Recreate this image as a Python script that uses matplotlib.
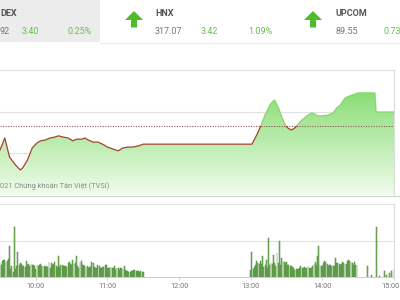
import matplotlib
matplotlib.use("Agg")
import matplotlib.pyplot as plt
import matplotlib.transforms as mtransforms
import numpy as np
from matplotlib.patches import Rectangle, Polygon
from matplotlib.colors import LinearSegmentedColormap

plt.rcParams['font.family'] = ['Roboto', 'DejaVu Sans']

# ---------------- data ----------------
banner_names = ["DEX", "HNX", "UPCOM"]
banner_values = ["92", "317.07", "89.55"]
banner_changes = ["3.40", "3.42", "0.73"]
banner_pcts = ["0.25%", "1.09%", ""]

ref_price = 1356.52

price_times = ["09:30", "09:34", "09:38", "09:43", "09:47", "09:49", "09:53", "09:57",
               "10:01", "10:04", "10:08", "10:12", "10:16", "10:19", "10:23", "10:27",
               "10:31", "10:34", "10:39", "10:41", "10:44", "10:48", "10:52", "10:56",
               "11:00", "11:05", "11:09", "11:13", "11:17", "11:21", "11:26", "11:30",
               "13:00", "13:01", "13:05", "13:08", "13:12", "13:16", "13:19", "13:20",
               "13:23", "13:26", "13:29", "13:31", "13:34", "13:37", "13:39", "13:43",
               "13:47", "13:51", "13:54", "13:56", "14:00", "14:05", "14:09", "14:12",
               "14:15", "14:19", "14:23", "14:27", "14:30", "14:44", "14:45", "15:00"]
price_values = [1350.8, 1353.7, 1349.1, 1347.2, 1346.0, 1346.5, 1348.4, 1351.3,
                1352.5, 1353.0, 1353.2, 1353.7, 1353.9, 1354.2, 1353.9, 1353.7,
                1353.0, 1353.4, 1353.4, 1353.7, 1353.2, 1352.7, 1352.7, 1352.2,
                1351.5, 1351.0, 1350.6, 1351.3, 1351.5, 1351.5, 1351.8, 1352.2,
                1352.2, 1352.2, 1354.4, 1356.3, 1359.2, 1361.6, 1362.6, 1362.8,
                1361.1, 1358.7, 1356.8, 1356.1, 1355.6, 1356.1, 1356.8, 1358.0,
                1359.0, 1359.7, 1359.4, 1359.0, 1359.0, 1359.2, 1359.7, 1360.9,
                1361.6, 1363.3, 1363.8, 1364.2, 1364.5, 1364.5, 1359.92, 1359.92]

# per-minute volume (thousand shares), morning from 09:30
vol_morning_start = "09:30"
vol_morning = [380, 330, 440, 470, 470, 410, 440, 490, 850, 220,
               300, 140, 1370, 220, 300, 690, 330, 380, 360, 300,
               300, 270, 440, 330, 360, 300, 360, 330, 330, 300,
               220, 330, 300, 330, 360, 300, 300, 300, 270, 300,
               270, 410, 250, 380, 330, 360, 410, 300, 270, 580,
               270, 330, 330, 300, 300, 300, 270, 380, 410, 360,
               330, 470, 360, 380, 580, 300, 250, 410, 440, 330,
               330, 300, 270, 300, 250, 270, 270, 410, 380, 270,
               250, 250, 330, 300, 250, 250, 270, 270, 330, 330,
               250, 250, 250, 270, 250, 250, 300, 220, 250, 250,
               190, 250, 250, 220, 300, 190, 160, 160, 140, 140,
               160, 160, 190, 190, 160, 160, 160, 140, 160, 140,
               140]
# per-minute volume, afternoon from 13:00
vol_afternoon_start = "13:00"
vol_afternoon = [190, 690, 220, 270, 330, 440, 380, 360, 440, 360,
                 580, 270, 330, 470, 250, 1070, 330, 380, 360, 600,
                 380, 300, 660, 380, 990, 330, 520, 440, 410, 380,
                 410, 330, 330, 300, 300, 270, 250, 190, 220, 220,
                 220, 250, 300, 250, 250, 270, 250, 250, 300, 250,
                 250, 250, 300, 360, 410, 330, 580, 850, 330, 300,
                 300, 380, 440, 410, 360, 300, 330, 330, 300, 300,
                 300, 520, 380, 380, 360, 330, 360, 410, 380, 360,
                 360, 440, 470, 440, 410, 380, 330, 410, 330, 330]
vol_late_times = ["14:38", "14:41", "14:45", "14:48", "14:52", "14:54", "14:56", "14:58", "15:00"]
vol_late = [300, 50, 1370, 30, 160, 50, 110, 160, 220]

tick_labels = ["10:00", "11:00", "12:00", "13:00", "14:00", "15:00"]


def to_h(s):
    hh, mm = s.split(":")
    return int(hh) + int(mm) / 60.0


# ---------------- figure ----------------
W, H = 400, 300
fig = plt.figure(figsize=(4, 3), dpi=100)
fig.patch.set_facecolor("white")

X0, X1 = 9.5, 15.0
ax_right = 394 / W

# price axes: y from 70 px to 195 px
ax = fig.add_axes([0, 1 - 195 / H, ax_right, (195 - 70) / H])
ax.set_xlim(X0, X1)
ax.set_ylim(1340, 1370)
for s in ["left", "top", "bottom"]:
    ax.spines[s].set_visible(False)
ax.spines["right"].set_color("#dcdcdc")
ax.spines["right"].set_linewidth(0.8)
ax.set_xticks([])
ax.set_yticks([])
ax.set_facecolor("none")
for g in [1350, 1360, 1370]:
    ax.axhline(g, color="#e2e2e2", lw=0.8, zorder=0.5, clip_on=False)

t = np.array([to_h(s) for s in price_times])
v = np.array(price_values)

poly = ax.fill_between(t, v, 1340, facecolor="none", edgecolor="none")
grad = np.linspace(0, 1, 256).reshape(-1, 1)
cmap = LinearSegmentedColormap.from_list("g", ["#f0fcec", "#74d65c"])
im = ax.imshow(grad, extent=[X0, X1, 1340, 1370], origin="lower", cmap=cmap,
               aspect="auto", zorder=1, interpolation="bilinear")
im.set_clip_path(poly.get_paths()[0], transform=ax.transData)

ax.axhline(ref_price, color="#8a5a5a", lw=0.8, ls=(0, (1, 1.3)), zorder=2)

above = Rectangle((X0, ref_price), X1 - X0, 1370 - ref_price, transform=ax.transData)
below = Rectangle((X0, 1340), X1 - X0, ref_price - 1340, transform=ax.transData)
l1, = ax.plot(t, v, color="#86d870", lw=0.9, zorder=3)
l1.set_clip_path(above)
l2, = ax.plot(t, v, color="#a6432c", lw=0.9, zorder=3)
l2.set_clip_path(below)

# volume axes: y from 204 px to 277 px
axv = fig.add_axes([0, (H - 277) / H, ax_right, (277 - 204) / H])
axv.set_xlim(X0, X1)
axv.set_ylim(0, 2000)
for s in ["left", "top"]:
    axv.spines[s].set_visible(False)
axv.spines["right"].set_color("#dcdcdc")
axv.spines["right"].set_linewidth(0.8)
axv.spines["bottom"].set_color("#cfcfcf")
axv.spines["bottom"].set_linewidth(0.8)
axv.set_yticks([])
axv.set_facecolor("none")
for g in [1000, 2000]:
    axv.axhline(g, color="#e2e2e2", lw=0.8, zorder=0.5, clip_on=False)

bw = 0.75 / 60
tm = to_h(vol_morning_start) + np.arange(len(vol_morning)) / 60.0
ta = to_h(vol_afternoon_start) + np.arange(len(vol_afternoon)) / 60.0
tl = np.array([to_h(s) for s in vol_late_times])
for tt, vv in [(tm, vol_morning), (ta, vol_afternoon), (tl, vol_late)]:
    axv.bar(tt, vv, width=bw, color="#82bb6a", edgecolor="#4a8636", linewidth=0.35, zorder=2)

axv.set_xticks([to_h(s) for s in tick_labels])
axv.set_xticklabels(tick_labels)
axv.tick_params(axis="x", length=2.5, width=0.6, color="#cccccc", pad=2,
                labelsize=5.3, labelcolor="#777777")
last = axv.get_xticklabels()[-1]
last.set_horizontalalignment("right")
last.set_transform(last.get_transform() +
                   mtransforms.ScaledTranslation(5.5 / 100, 0, fig.dpi_scale_trans))

# ---------------- overlay decorations (pixel coords) ----------------
ov = fig.add_axes([0, 0, 1, 1], zorder=-1)
ov.set_xlim(0, W)
ov.set_ylim(H, 0)
ov.axis("off")

ov.add_patch(Rectangle((0, 0), 100, 42, facecolor="#ececec", edgecolor="none"))
ov.plot([100, 400], [42.5, 42.5], color="#eaeaea", lw=0.8)
ov.plot([0, 394], [70, 70], color="#e2e2e2", lw=0.8)
ov.plot([0, 400], [195.5, 195.5], color="#d3d3d3", lw=0.8)

def arrow(cx):
    pts = [(cx, 11), (cx + 9, 20), (cx + 3, 20), (cx + 3, 27.5),
           (cx - 3, 27.5), (cx - 3, 20), (cx - 9, 20)]
    ov.add_patch(Polygon(pts, closed=True, facecolor="#4fbb2c", edgecolor="none"))

arrow(134)
arrow(313)

name_x = [0, 155, 336]
val_x = [0, 155, 336]
chg_x = [22, 201, 383]
pct_x = [68, 248, 430]
green = "#67bf4b"
for i in range(3):
    ov.text(name_x[i], 13, banner_names[i], fontsize=6.5, fontweight="bold",
            color="#555555", ha="left", va="center")
    ov.text(val_x[i], 32, banner_values[i], fontsize=6.5, color="#777777",
            ha="left", va="center")
    ov.text(chg_x[i], 32, banner_changes[i], fontsize=6.5, color=green,
            ha="left", va="center")
    if banner_pcts[i]:
        ov.text(pct_x[i], 32, banner_pcts[i], fontsize=6.5, color=green,
                ha="left", va="center")

fig.text(0.0, 1 - 186 / H, "021 Chứng khoán Tân Việt (TVSI)", fontsize=5.3,
         color="#8a8a8a", ha="left", va="center", zorder=10)

fig.savefig("out.png", dpi=100)
